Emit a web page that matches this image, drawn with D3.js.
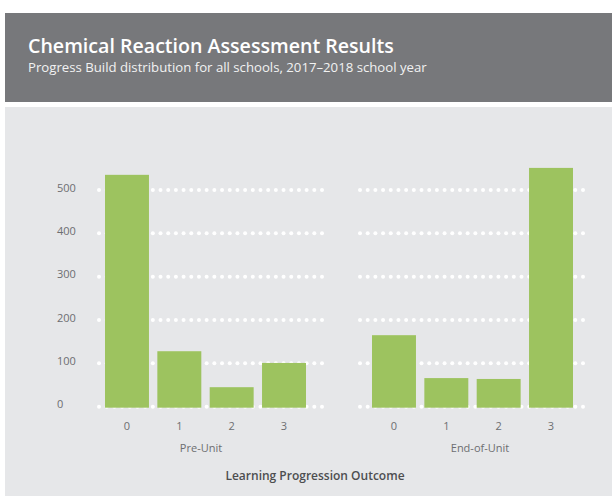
<!DOCTYPE html>
<meta charset="utf-8">
<style>

body {
  margin: 0;
  background: #fff;
  font-family: "Open Sans", "Liberation Sans", sans-serif;
}

.tick-label {
  fill: #6d6e71;
  font-size: 11px;
}

</style>
<body>
  <script src="https://d3js.org/d3.v7.min.js"></script>
  <script>

    var outcomes = ["0", "1", "2", "3"];
    var groups = ["Pre-Unit", "End-of-Unit"];
    var preUnit = [535, 128, 45, 101];
    var endOfUnit = [165, 66, 64, 551];
    var yTicks = [0, 100, 200, 300, 400, 500];

    var width = 612, height = 496;

    var svg = d3.select("body").append("svg")
        .attr("width", width)
        .attr("height", height);

    // header band
    svg.append("rect")
        .attr("x", 5).attr("y", 13)
        .attr("width", width - 5).attr("height", 89)
        .attr("fill", "#77787b");

    svg.append("text")
        .attr("x", 28).attr("y", 53)
        .attr("fill", "#fff")
        .style("font-size", "19.6px")
        .style("font-weight", 600)
        .text("Chemical Reaction Assessment Results");

    svg.append("text")
        .attr("x", 28).attr("y", 72)
        .attr("fill", "#f2f2f2")
        .style("font-size", "13.2px")
        .style("font-weight", 400)
        .text("Progress Build distribution for all schools, 2017\u20132018 school year");

    // chart panel
    svg.append("rect")
        .attr("x", 5).attr("y", 107)
        .attr("width", width - 5).attr("height", height - 107)
        .attr("fill", "#e6e7e9");

    var y = d3.scaleLinear()
        .domain([0, 500])
        .range([406.7, 190]);

    var panels = [
      {name: groups[0], values: preUnit, bars: [105, 306], dots: [99, 322], mid: 201},
      {name: groups[1], values: endOfUnit, bars: [372, 573], dots: [360, 583], mid: 480}
    ];

    // y tick labels
    svg.selectAll(".ylab")
        .data(yTicks)
      .enter().append("text")
        .attr("class", "tick-label")
        .attr("x", 57)
        .attr("y", function(d) { return y(d) + 1.5; })
        .text(function(d) { return d; });

    panels.forEach(function(p) {
      var x = d3.scaleBand()
          .domain(outcomes)
          .range(p.bars)
          .paddingInner(0.16)
          .paddingOuter(0);

      var nDots = 30;
      var dx = d3.scaleLinear().domain([0, nDots - 1]).range(p.dots);
      var dotIdx = d3.range(nDots);

      var g = svg.append("g");

      // dotted gridlines
      yTicks.forEach(function(t) {
        g.selectAll(null)
            .data(dotIdx)
          .enter().append("circle")
            .attr("cx", function(i) { return dx(i); })
            .attr("cy", y(t))
            .attr("r", 2)
            .attr("fill", "#fff");
      });

      g.selectAll(".bar")
          .data(p.values)
        .enter().append("rect")
          .attr("x", function(d, i) { return x(outcomes[i]); })
          .attr("y", function(d) { return y(d); })
          .attr("width", x.bandwidth())
          .attr("height", function(d) { return y(0) + 1 - y(d); })
          .attr("fill", "#9dc35f");

      g.selectAll(".xlab")
          .data(outcomes)
        .enter().append("text")
          .attr("class", "tick-label")
          .attr("x", function(d) { return x(d) + x.bandwidth() / 2; })
          .attr("y", 430)
          .attr("text-anchor", "middle")
          .text(function(d) { return d; });

      g.append("text")
          .attr("class", "tick-label")
          .attr("x", p.mid)
          .attr("y", 452)
          .attr("text-anchor", "middle")
          .text(p.name);
    });

    svg.append("text")
        .attr("x", 315)
        .attr("y", 480)
        .attr("text-anchor", "middle")
        .attr("fill", "#4d4e50")
        .style("font-size", "12px")
        .style("font-weight", 600)
        .text("Learning Progression Outcome");

  </script>
</body>
</html>
